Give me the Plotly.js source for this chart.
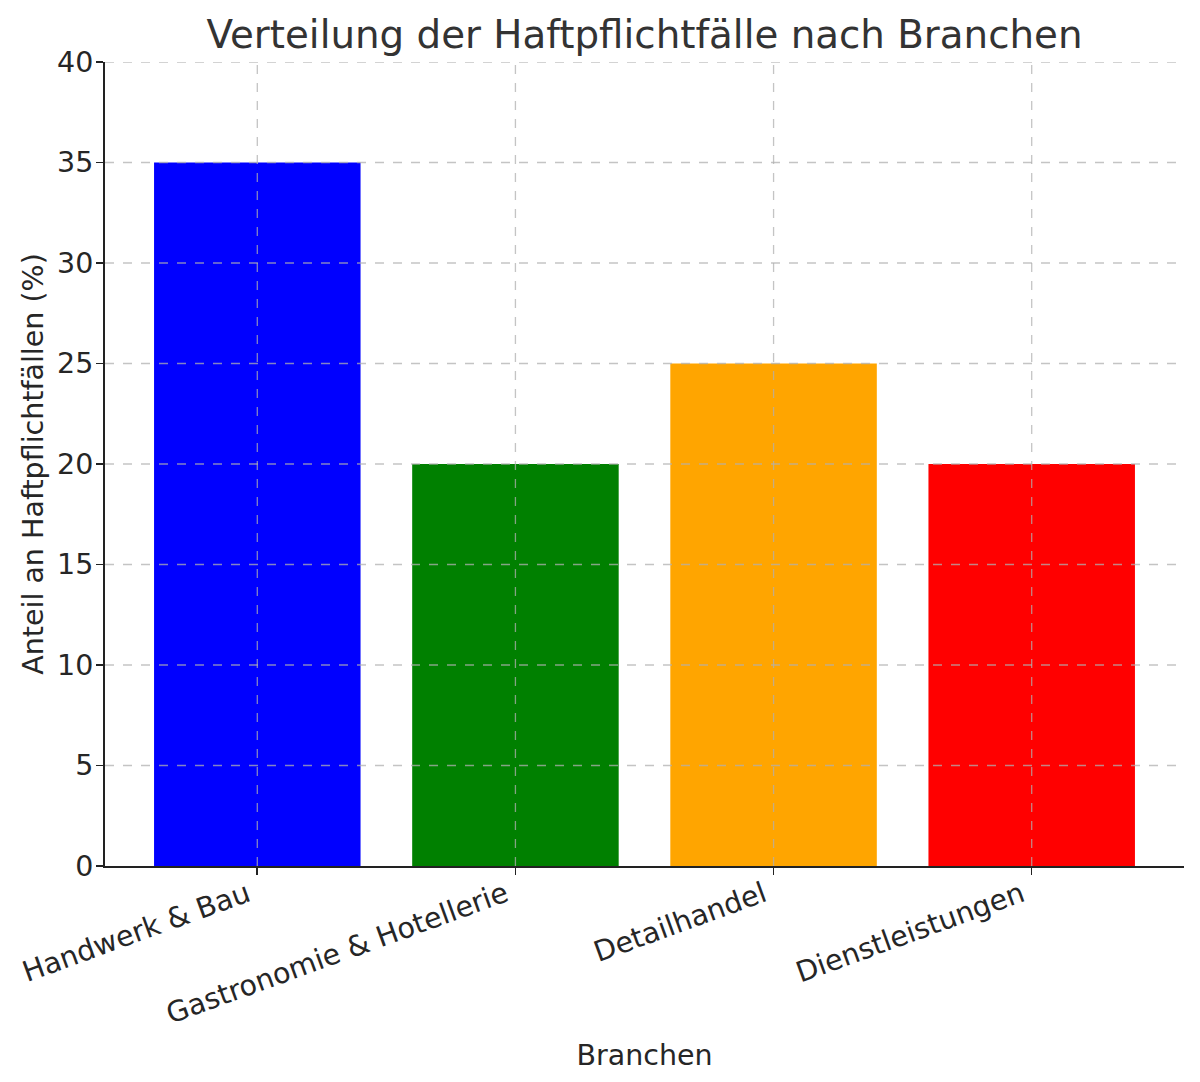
<!DOCTYPE html>
<html>
<head>
<meta charset="utf-8">
<script src="https://cdn.plot.ly/plotly-3.0.1.min.js"></script>
<style>
  html, body { margin: 0; padding: 0; background: #fff; }
  #chart { width: 1200px; height: 1082px; }
</style>
</head>
<body>
<div id="chart"></div>
<script>
// data
var branchen = [ 'Handwerk & Bau', 'Gastronomie & Hotellerie', 'Detailhandel', 'Dienstleistungen' ];
var anteile = [ 35, 20, 25, 20 ];
var farben = [ 'blue', 'green', 'orange', 'red' ];
var yTicks = [ 0, 5, 10, 15, 20, 25, 30, 35, 40 ];

var textColor = '#262626';
var gridStyle = { color: 'rgba(176,176,176,0.75)', width: 1.3, dash: 'dash' };

// grid lines go on top of the bars, like in the original
var shapes = [];
branchen.forEach(function ( b ) {
    shapes.push({ type: 'line', xref: 'x', yref: 'paper', x0: b, x1: b, y0: 0, y1: 1,
                  line: gridStyle, layer: 'above' });
});
yTicks.forEach(function ( v ) {
    if ( v === 0 ) return;
    shapes.push({ type: 'line', xref: 'paper', yref: 'y', x0: 0, x1: 1, y0: v, y1: v,
                  line: gridStyle, layer: 'above' });
});

var trace = {
    type: 'bar',
    x: branchen,
    y: anteile,
    width: 0.8,
    marker: { color: farben, line: { width: 0 } },
    hoverinfo: 'x+y'
};

var layout = {
    width: 1200,
    height: 1082,
    margin: { l: 105, r: 16, t: 62, b: 216 },
    paper_bgcolor: '#fff',
    plot_bgcolor: '#fff',
    font: { family: 'DejaVu Sans, sans-serif', size: 28.5, color: textColor },
    showlegend: false,
    bargap: 0.2,
    title: {
        text: 'Verteilung der Haftpflichtfälle nach Branchen',
        font: { size: 38.8, color: '#333333' },
        x: 0.5, xref: 'paper', xanchor: 'center',
        y: 1 - 34 / 1082, yanchor: 'middle'
    },
    xaxis: {
        type: 'category',
        range: [ -0.59, 3.59 ],
        tickangle: -20,
        ticks: 'outside', ticklen: 7, tickwidth: 1.6, tickcolor: '#222',
        showline: true, linecolor: '#222', linewidth: 2,
        showgrid: false, zeroline: false,
        ticklabelshift: -10,
        ticklabelstandoff: -8,
        tickfont: { size: 28.5, color: textColor },
        title: { text: 'Branchen', font: { size: 28.5, color: textColor }, standoff: 16 }
    },
    yaxis: {
        range: [ 0, 40 ],
        tickvals: yTicks,
        ticks: 'outside', ticklen: 7, tickwidth: 1.6, tickcolor: '#222',
        showline: true, linecolor: '#222', linewidth: 2,
        showgrid: false, zeroline: false,
        ticklabelstandoff: -3,
        tickfont: { size: 28.5, color: textColor },
        title: { text: 'Anteil an Haftpflichtfällen (%)', font: { size: 28.5, color: textColor }, standoff: 5 }
    },
    shapes: shapes
};

Plotly.newPlot( 'chart', [ trace ], layout, { displayModeBar: false, staticPlot: true } );
</script>
</body>
</html>
